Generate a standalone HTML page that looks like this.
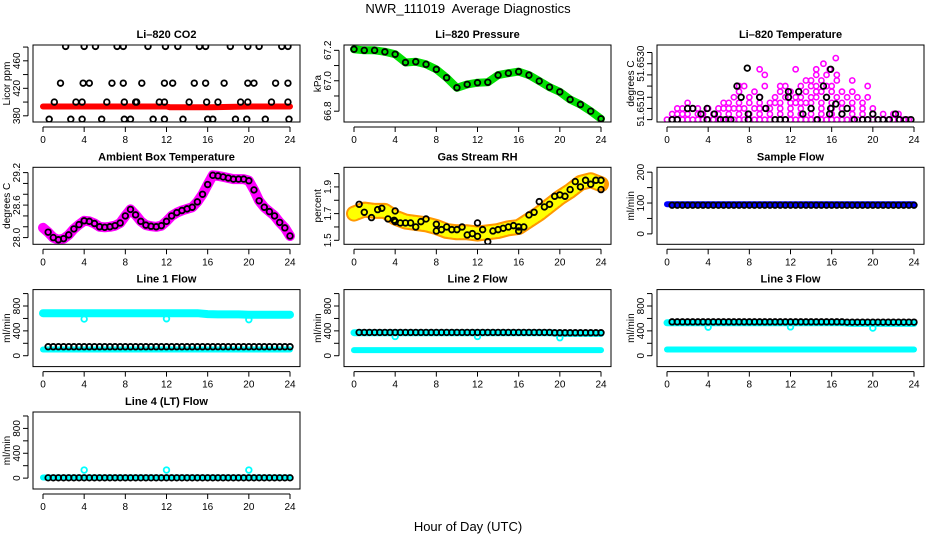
<!DOCTYPE html>
<html><head><meta charset="utf-8"><style>
html,body{margin:0;padding:0;background:#fff;}
svg{display:block;font-family:"Liberation Sans",Arial,sans-serif;}
</style></head><body>
<svg id="chart" width="936" height="540" viewBox="0 0 936 540" xmlns="http://www.w3.org/2000/svg">
<text x="468" y="13" font-size="13" text-anchor="middle">NWR_111019&#160; Average Diagnostics</text>
<text x="468" y="531" font-size="13" text-anchor="middle">Hour of Day (UTC)</text>
</svg>
<script>
const xTicks=[0,4,8,12,16,20,24];
const hrs=[0,1,2,3,4,5,6,7,8,9,10,11,12,13,14,15,16,17,18,19,20,21,22,23,24];
const halfHrs=[0,0.5,1,1.5,2,2.5,3,3.5,4,4.5,5,5.5,6,6.5,7,7.5,8,8.5,9,9.5,10,10.5,11,11.5,12,12.5,13,13.5,14,14.5,15,15.5,16,16.5,17,17.5,18,18.5,19,19.5,20,20.5,21,21.5,22,22.5,23,23.5,24];
const blackHrs=[0.5,1,1.5,2,2.5,3,3.5,4,4.5,5,5.5,6,6.5,7,7.5,8,8.5,9,9.5,10,10.5,11,11.5,12,12.5,13,13.5,14,14.5,15,15.5,16,16.5,17,17.5,18,18.5,19,19.5,20,20.5,21,21.5,22,22.5,23,23.5,24];

// CO2
const co2PtHours=[2.2,4.0,5.1,7.2,7.8,10.2,11.9,13.1,15.2,15.8,18.2,19.9,21.0,23.2,23.8, 1.7,3.9,4.5,6.7,7.8,9.6,11.8,12.6,14.7,15.8,17.6,19.9,20.5,22.6,23.8, 1.1,3.2,3.8,6.2,7.9,9.0,9.1,11.3,11.8,14.2,15.9,17.0,19.2,19.9,22.2,23.8, 0.6,2.7,3.8,5.7,7.9,8.5,10.7,11.8,13.6,16.0,16.5,18.7,19.8,21.6,23.9];
const co2PtVals=[481,481,481,481,481,481,481,481,481,481,481,481,481,481,481, 427.5,427.5,427.5,427.5,427.5,427.5,427.5,427.5,427.5,427.5,427.5,427.5,427.5,427.5,427.5, 400,400,400,400,400,400,400,400,400,400,400,400,400,400,400,400, 375,375,375,375,375,375,375,375,375,375,375,375,375,375,375];
const co2BandHours=[0,12,12.3,16,16.3,20,24];
const co2BandVals=[393.5,393.5,392.5,392.5,392.5,393.5,393.5];

// Pressure
const pressVals=[67.207,67.2,67.2,67.19,67.174,67.12,67.125,67.108,67.075,67.02,66.954,66.976,66.987,66.99,67.037,67.05,67.06,67.037,66.998,66.958,66.927,66.877,66.844,66.8,66.75];

// Li-820 temperature
const tempMagHours=[0,0.5,1,1.5,2,2.5,3,3.5,4,4.5,5,5.5,6,6.5,7,7.5,8,8.5,9,9.5,10,10.5,11,11.5,12,12.5,13,13.5,14,14.5,15,15.5,16,16.5,17,17.5,18,18.5,19,19.5,20,20.5,21,21.5,22,22.5,23,23.5,
0.5,1,1.5,2,3,3.5,4.5,5,6,7,8,9,10,11,12,13,14,15,16,17,18,19,20,21,22,22.5,
1,1.5,2.5,3,4,5,5.5,6,6.5,7,7.5,8.5,9,9.5,10,11,12,13,14,15,16,17,18,19,20,
2,5.5,6,7,8,9,10,10.5,11,12,12.5,13,13.5,14,15,16,17,18,19,
6.5,8,9,10.5,11.5,12.5,13,14,14.5,15.5,16.5,17.5,18.5,19.5,
7,8.5,11,12,13.5,14.5,15,16,17,18,
7,7.5,9.5,11,11.5,13,14,14.5,15.5,16,19.5,
13.5,14,15,16.5,18, 9.5,14.5,15.5,16.5, 9,12.5,14.5,15.8, 15.2, 16.4];
const tempMagVals=[51.6505,51.6505,51.6505,51.6505,51.6505,51.6505,51.6505,51.6505,51.6505,51.6505,51.6505,51.6505,51.6505,51.6505,51.6505,51.6505,51.6505,51.6505,51.6505,51.6505,51.6505,51.6505,51.6505,51.6505,51.6505,51.6505,51.6505,51.6505,51.6505,51.6505,51.6505,51.6505,51.6505,51.6505,51.6505,51.6505,51.6505,51.6505,51.6505,51.6505,51.6505,51.6505,51.6505,51.6505,51.6505,51.6505,51.6505,51.6505,
51.65075,51.65075,51.65075,51.65075,51.65075,51.65075,51.65075,51.65075,51.65075,51.65075,51.65075,51.65075,51.65075,51.65075,51.65075,51.65075,51.65075,51.65075,51.65075,51.65075,51.65075,51.65075,51.65075,51.65075,51.65075,51.65075,
51.651,51.651,51.651,51.651,51.651,51.651,51.651,51.651,51.651,51.651,51.651,51.651,51.651,51.651,51.651,51.651,51.651,51.651,51.651,51.651,51.651,51.651,51.651,51.651,51.651,
51.65125,51.65125,51.65125,51.65125,51.65125,51.65125,51.65125,51.65125,51.65125,51.65125,51.65125,51.65125,51.65125,51.65125,51.65125,51.65125,51.65125,51.65125,51.65125,
51.6515,51.6515,51.6515,51.6515,51.6515,51.6515,51.6515,51.6515,51.6515,51.6515,51.6515,51.6515,51.6515,51.6515,
51.65175,51.65175,51.65175,51.65175,51.65175,51.65175,51.65175,51.65175,51.65175,51.65175,
51.652,51.652,51.652,51.652,51.652,51.652,51.652,51.652,51.652,51.652,51.652,
51.65225,51.65225,51.65225,51.65225,51.65225, 51.6525,51.6525,51.6525,51.6525, 51.65275,51.65275,51.65275,51.65275, 51.653, 51.65325];
const tempBlkHours=[0.5,1,2,2.5,3.3,3.9,3.9,4.6,5.2,5.7,6.2,6.8,7.2,7.9,7.9,7.8,9,9.6,10.5,11,11.5,11.8,11.8,12.8,13.2,14,14.6,15.2,15.5,15.8,15.9,15.9,16.4,17,17.5,18.2,19,19.5,20,20.5,21,21.6,22.2,22.6,23.2,23.7];
const tempBlkVals=[51.6505,51.6505,51.651,51.651,51.65075,51.6505,51.651,51.65075,51.6505,51.6505,51.6505,51.652,51.6515,51.65075,51.6505,51.6528,51.6515,51.651,51.6505,51.6505,51.6505,51.6515,51.65175,51.65175,51.65075,51.651,51.6505,51.652,51.6515,51.65075,51.651,51.65275,51.6512,51.65075,51.651,51.6505,51.6505,51.6505,51.65075,51.6505,51.6505,51.6505,51.65075,51.6505,51.6505,51.6505];

// Ambient
const ambVals=[28.18,28.1,28.0,27.96,27.98,28.05,28.16,28.24,28.31,28.3,28.26,28.2,28.19,28.2,28.22,28.27,28.4,28.52,28.42,28.3,28.23,28.21,28.2,28.22,28.3,28.4,28.46,28.5,28.53,28.56,28.66,28.8,28.98,29.15,29.14,29.12,29.1,29.08,29.08,29.08,29.05,28.88,28.68,28.56,28.48,28.4,28.28,28.18,28.03];

// RH
const rhVals=[1.7,1.73,1.72,1.72,1.67,1.64,1.63,1.62,1.6,1.57,1.56,1.56,1.55,1.56,1.57,1.59,1.6,1.65,1.7,1.76,1.82,1.87,1.93,1.95,1.92];
const rhBlkHours=[0.5,1,1.7,2.3,2.7,3.3,3.9,4,4,4.5,5,5.5,6,6.5,7,8,8,8.5,9,9.5,10,10.5,11,11.5,12,12,12.5,13,13.5,14,14.5,15,15.5,16,16,16.5,17,17.5,18,18.5,19,19.5,20,20.5,21,21.5,22,22.5,23,23.5,24,24];
const rhBlkVals=[1.77,1.71,1.67,1.73,1.74,1.66,1.65,1.64,1.72,1.63,1.63,1.63,1.6,1.64,1.66,1.62,1.57,1.58,1.6,1.58,1.58,1.6,1.54,1.55,1.63,1.53,1.58,1.49,1.57,1.58,1.59,1.6,1.61,1.6,1.57,1.6,1.69,1.71,1.79,1.75,1.77,1.83,1.84,1.83,1.88,1.94,1.9,1.95,1.92,1.95,1.88,1.95];

// Flows
const sampleBand=[96,96,96,96,96,96,96,96,96,96,96,96,96,96,96,96,96,96,96,96,96,96,96,96,96];
const sampleBlk=[93,93,93,93,93,93,93,93,93,93,93,93,93,93,93,93,93,93,93,93,93,93,93,93,93];
const l1High=[685,685,685,685,685,685,685,685,685,685,685,685,685,685,685,685,670,665,665,665,660,660,660,660,660];
const l1Low=[100,100,100,100,100,100,100,100,100,100,100,100,100,100,100,100,100,100,100,100,100,100,100,100,100];
const l1Blk=[145,145,145,145,145,145,145,145,145,145,145,145,145,145,145,145,145,145,145,145,145,145,145,145,145];
const l2High=[370,370,370,370,370,370,370,370,370,370,370,370,370,370,370,370,370,370,370,370,360,360,360,360,360];
const l2Low=[90,90,90,90,90,90,90,90,90,90,90,90,90,90,90,90,90,90,90,90,90,90,90,90,90];
const l2Blk=[375,375,375,375,375,375,375,375,375,375,375,375,375,375,375,375,375,375,375,375,370,370,370,370,370];
const l3High=[530,530,530,530,530,530,530,530,530,530,530,530,530,530,530,530,530,530,520,520,520,520,520,520,520];
const l3Low=[100,100,100,100,100,100,100,100,100,100,100,100,100,100,100,100,100,100,100,100,100,100,100,100,100];
const l3Blk=[545,545,545,545,545,545,545,545,545,545,545,545,545,545,545,545,545,545,540,540,540,540,540,540,540];
const l4Cyan=[10,10,10,10,10,10,10,10,10,10,10,10,10,10,10,10,10,10,10,10,10,10,10,10,10];
const l4Blk=[5,5,5,5,5,5,5,5,5,5,5,5,5,5,5,5,5,5,5,5,5,5,5,5,5];
const dipHours=[4,12,20];
const l1Dips=[590,595,580];
const l2Dips=[310,310,290];
const l3Dips=[460,465,445];
const l4Spikes=[130,130,130];

const NS='http://www.w3.org/2000/svg';
const svg=document.getElementById('chart');
const colL=[33,344,657], colW=267, rowT=[45,167.3,289.6,412], rowH=77;
function mk(tag,attrs,parent){const e=document.createElementNS(NS,tag);for(const k in attrs)e.setAttribute(k,attrs[k]);(parent||svg).appendChild(e);return e;}

function panel(c,r,title,ylab,ylim,yt,ytLab,name){
  const L=colL[c],T=rowT[r],R=L+colW,B=T+rowH;
  const g=mk('g',{});
  
  
  const x=v=>L+10+(v/24)*(colW-20);
  const y=v=>B-(v-ylim[0])/(ylim[1]-ylim[0])*rowH;
  const t=mk('text',{x:(L+R)/2,y:T-7,'font-size':11,'font-weight':'bold','text-anchor':'middle'},g);
  t.textContent=title;
  
  
  const yl=mk('text',{transform:`translate(${L-23},${(T+B)/2}) rotate(-90)`,'font-size':10,'text-anchor':'middle'},g);
  yl.textContent=ylab;
  
  
  const xa=mk('g',{},g);
  
  
  mk('line',{x1:x(0),x2:x(24),y1:B+5,y2:B+5,stroke:'#000'},xa);
  xTicks.forEach(v=>{mk('line',{x1:x(v),x2:x(v),y1:B+5,y2:B+10,stroke:'#000'},xa);
    const tl=mk('text',{x:x(v),y:B+21,'font-size':10,'text-anchor':'middle'},xa);tl.textContent=v;});
  const ya=mk('g',{},g);
  
  
  mk('line',{x1:L-5,x2:L-5,y1:y(yt[0]),y2:y(yt[yt.length-1]),stroke:'#000'},ya);
  yt.forEach((v,i)=>{mk('line',{x1:L-10,x2:L-5,y1:y(v),y2:y(v),stroke:'#000'},ya);
    if(ytLab[i]!==''){const tl=mk('text',{transform:`translate(${L-13},${y(v)}) rotate(-90)`,'font-size':10,'text-anchor':'middle'},ya);tl.textContent=ytLab[i];}});
  const clip='clip'+c+r;
  const cp=mk('clipPath',{id:clip},g);mk('rect',{x:L,y:T,width:colW,height:rowH},cp);
  const plot=mk('g',{'clip-path':`url(#${clip})`},g);
  mk('rect',{x:L,y:T,width:colW,height:rowH,fill:'none',stroke:'#000'},g);
  return {x,y,plot};
}
function band(p,hs,vs,color,w,name,dash){
  const pts=hs.map((h,i)=>p.x(h).toFixed(1)+','+p.y(vs[i]).toFixed(1)).join(' ');
  const e=mk('polyline',{points:pts,fill:'none',stroke:color,'stroke-width':w,'stroke-linejoin':'round','stroke-linecap':'round'},p.plot);
  if(dash)e.setAttribute('stroke-dasharray',dash);
  
  
}
function pts(p,hs,vs,color,name,r,sw){
  const g=mk('g',{},p.plot);
  
  
  hs.forEach((h,i)=>{mk('circle',{cx:p.x(h),cy:p.y(vs[i]),r:r||2.8,fill:'none',stroke:color,'stroke-width':sw||1.8},g);});
}
const flowT=[0,200,400,600,800,1000], flowL=['0','','400','','800',''];

let p=panel(0,0,'Li\u2013820 CO2','Licor ppm',[371,483],[380,400,420,440,460,480],['380','','420','','460',''],'co2');
band(p,co2BandHours,co2BandVals,'#ff0000',6,'co2-series-band');
pts(p,co2PtHours,co2PtVals,'#000','co2-hourly-points');

p=panel(1,0,'Li\u2013820 Pressure','kPa',[66.729,67.235],[66.8,66.9,67.0,67.1,67.2],['66.8','','67.0','','67.2'],'pressure');
band(p,hrs,pressVals,'#00e000',8,'pressure-series-band');
pts(p,hrs,pressVals,'#000','pressure-hourly-points');

p=panel(2,0,'Li\u2013820 Temperature','degrees C',[51.650395,51.653835],[51.6505,51.651,51.6515,51.652,51.6525,51.653,51.6535],['','51.6510','','','','51.6530',''],'li820-temp');
pts(p,tempMagHours,tempMagVals,'#ff00ff','li820-temp-points',2.6,1.6);
pts(p,tempBlkHours,tempBlkVals,'#000','li820-temp-hourly-points');

p=panel(0,1,'Ambient Box Temperature','degrees C',[27.876,29.298],[28.0,28.2,28.4,28.6,28.8,29.0,29.2],['28.0','','','28.6','','','29.2'],'ambient-temp');
band(p,halfHrs,ambVals,'#ff00ff',10,'ambient-temp-band');
pts(p,halfHrs.slice(1),ambVals.slice(1),'#000','ambient-temp-hourly-points');

p=panel(1,1,'Gas Stream RH','percent',[1.47,2.047],[1.5,1.6,1.7,1.8,1.9,2.0],['1.5','','1.7','','1.9',''],'rh');
band(p,hrs,rhVals,'#ff9900',16,'rh-band');
band(p,hrs,rhVals,'#ffff00',12,'rh-band-dots','1 3');
pts(p,rhBlkHours,rhBlkVals,'#000','rh-hourly-points');

p=panel(2,1,'Sample Flow','ml/min',[-33.8,215.8],[0,50,100,150,200],['0','','100','','200'],'sample-flow');
band(p,hrs,sampleBand,'#0000ff',6,'sample-flow-band');
pts(p,blackHrs,blackHrs.map((h,i)=>sampleBlk[Math.round(h)]),'#000','sample-flow-hourly-points');

p=panel(0,2,'Line 1 Flow','ml/min',[-175,1064],flowT,flowL,'line1-flow');
band(p,hrs,l1High,'#00ffff',8,'line1-flow-high-band');
band(p,hrs,l1Low,'#00ffff',6,'line1-flow-low-band');
pts(p,dipHours,l1Dips,'#00ffff','line1-flow-dips');
pts(p,blackHrs,blackHrs.map(h=>l1Blk[Math.round(h)]),'#000','line1-flow-hourly-points');

p=panel(1,2,'Line 2 Flow','ml/min',[-175,1064],flowT,flowL,'line2-flow');
band(p,hrs,l2High,'#00ffff',7,'line2-flow-high-band');
band(p,hrs,l2Low,'#00ffff',6,'line2-flow-low-band');
pts(p,dipHours,l2Dips,'#00ffff','line2-flow-dips');
pts(p,blackHrs,blackHrs.map(h=>l2Blk[Math.round(h)]),'#000','line2-flow-hourly-points');

p=panel(2,2,'Line 3 Flow','ml/min',[-175,1064],flowT,flowL,'line3-flow');
band(p,hrs,l3High,'#00ffff',7,'line3-flow-high-band');
band(p,hrs,l3Low,'#00ffff',6,'line3-flow-low-band');
pts(p,dipHours,l3Dips,'#00ffff','line3-flow-dips');
pts(p,blackHrs,blackHrs.map(h=>l3Blk[Math.round(h)]),'#000','line3-flow-hourly-points');

p=panel(0,3,'Line 4 (LT) Flow','ml/min',[-175,1064],flowT,flowL,'line4-flow');
band(p,hrs,l4Cyan,'#00ffff',6,'line4-flow-band');
pts(p,dipHours,l4Spikes,'#00ffff','line4-flow-spikes');
pts(p,blackHrs,blackHrs.map(h=>l4Blk[Math.round(h)]),'#000','line4-flow-hourly-points');
</script>
</body></html>
